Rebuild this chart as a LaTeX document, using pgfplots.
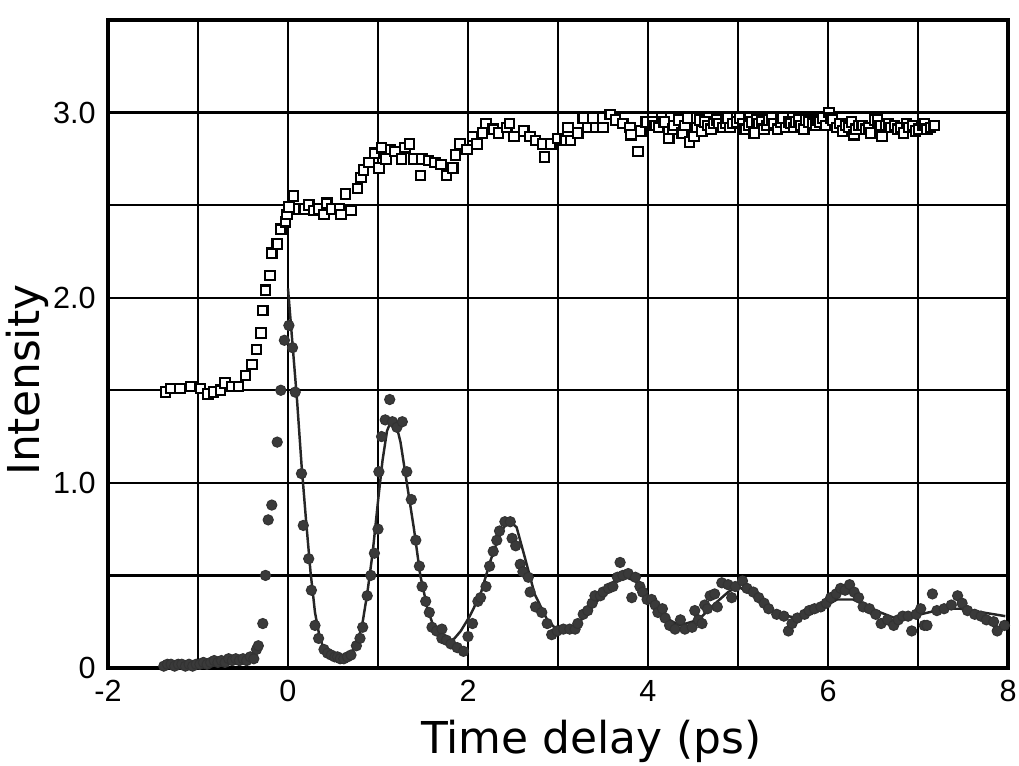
\documentclass[border=0pt]{standalone}
\usepackage{fontspec}
\setmainfont{DejaVu Sans}
\newfontfamily\tickfont{Liberation Sans}
\usepackage{pgfplots}
\pgfplotsset{compat=1.18}
\definecolor{dot}{HTML}{3A3A3A}

% open squares: upper trace
\pgfplotstableread{
x y
-1.36 1.49
-1.30 1.51
-1.20 1.51
-1.08 1.52
-0.97 1.51
-0.89 1.48
-0.83 1.49
-0.75 1.50
-0.70 1.54
-0.63 1.52
-0.55 1.52
-0.47 1.58
-0.40 1.64
-0.35 1.72
-0.30 1.81
-0.28 1.93
-0.25 2.04
-0.20 2.12
-0.18 2.24
-0.12 2.29
-0.08 2.37
-0.03 2.41
-0.01 2.45
0.01 2.49
0.06 2.55
0.12 2.48
0.18 2.48
0.23 2.50
0.29 2.47
0.34 2.48
0.40 2.45
0.43 2.51
0.49 2.48
0.57 2.48
0.59 2.45
0.64 2.56
0.70 2.47
0.77 2.59
0.81 2.65
0.84 2.69
0.90 2.73
0.96 2.78
1.01 2.70
1.04 2.81
1.09 2.75
1.14 2.80
1.19 2.79
1.26 2.75
1.30 2.81
1.35 2.83
1.40 2.75
1.47 2.66
1.49 2.75
1.56 2.74
1.63 2.73
1.70 2.72
1.76 2.66
1.83 2.70
1.86 2.77
1.91 2.83
1.99 2.80
2.05 2.87
2.10 2.83
2.16 2.89
2.20 2.94
2.28 2.91
2.34 2.89
2.43 2.92
2.46 2.94
2.51 2.87
2.62 2.90
2.69 2.87
2.75 2.85
2.83 2.83
2.85 2.76
2.92 2.83
3.00 2.86
3.08 2.85
3.11 2.92
3.14 2.85
3.22 2.89
3.28 2.97
3.33 2.92
3.39 2.97
3.42 2.92
3.50 2.92
3.58 2.99
3.64 2.96
3.72 2.94
3.80 2.92
3.81 2.88
3.89 2.79
3.92 2.90
3.98 2.95
4.05 2.95
4.08 2.93
4.12 2.92
4.15 2.97
4.18 2.95
4.23 2.86
4.27 2.91
4.29 2.93
4.34 2.96
4.38 2.89
4.41 2.93
4.44 2.97
4.46 2.84
4.51 2.87
4.54 2.92
4.57 2.96
4.60 2.90
4.63 2.95
4.66 2.93
4.70 2.91
4.73 2.94
4.76 2.96
4.79 2.94
4.83 2.92
4.86 2.94
4.88 2.97
4.91 2.92
4.94 2.94
4.99 2.95
5.02 2.97
5.05 2.94
5.08 2.91
5.12 2.93
5.15 2.95
5.18 2.89
5.21 2.96
5.23 2.94
5.26 2.95
5.29 2.91
5.32 2.93
5.34 2.96
5.37 2.97
5.40 2.94
5.44 2.91
5.47 2.95
5.50 2.97
5.53 2.92
5.56 2.95
5.59 2.94
5.62 2.92
5.64 2.95
5.67 2.96
5.70 2.93
5.73 2.91
5.75 2.96
5.79 2.95
5.83 2.94
5.86 2.93
5.88 2.96
5.91 2.95
5.94 2.97
5.97 2.93
6.01 3.00
6.03 2.97
6.05 2.96
6.10 2.92
6.13 2.94
6.16 2.90
6.20 2.93
6.23 2.92
6.26 2.95
6.29 2.88
6.31 2.91
6.34 2.93
6.38 2.93
6.42 2.91
6.45 2.92
6.47 2.89
6.52 2.96
6.55 2.96
6.58 2.93
6.60 2.87
6.64 2.93
6.67 2.94
6.70 2.92
6.74 2.93
6.77 2.91
6.81 2.92
6.84 2.89
6.87 2.94
6.90 2.92
6.94 2.93
6.97 2.90
7.01 2.91
7.05 2.93
7.07 2.94
7.10 2.91
7.14 2.92
7.18 2.93
}\squares

% filled circles: lower trace
\pgfplotstableread{
x y
-1.38 0.01
-1.34 0.02
-1.30 0.02
-1.26 0.01
-1.22 0.02
-1.18 0.02
-1.14 0.01
-1.10 0.02
-1.06 0.01
-1.02 0.02
-0.98 0.02
-0.94 0.03
-0.90 0.02
-0.86 0.03
-0.82 0.04
-0.78 0.03
-0.74 0.04
-0.70 0.03
-0.66 0.05
-0.62 0.04
-0.58 0.05
-0.54 0.04
-0.50 0.05
-0.46 0.04
-0.42 0.06
-0.38 0.05
-0.35 0.10
-0.33 0.12
-0.28 0.24
-0.25 0.50
-0.22 0.80
-0.18 0.88
-0.12 1.22
-0.08 1.50
-0.04 1.77
0.01 1.85
0.05 1.73
0.08 1.49
0.15 1.05
0.17 0.77
0.23 0.59
0.26 0.42
0.30 0.23
0.34 0.16
0.40 0.10
0.44 0.08
0.48 0.07
0.52 0.06
0.55 0.06
0.58 0.05
0.62 0.05
0.66 0.06
0.70 0.07
0.76 0.12
0.80 0.16
0.83 0.22
0.88 0.39
0.92 0.50
0.96 0.62
1.00 0.75
1.01 1.06
1.04 1.25
1.08 1.34
1.13 1.45
1.16 1.33
1.21 1.30
1.27 1.33
1.32 1.06
1.37 0.91
1.42 0.69
1.46 0.55
1.49 0.44
1.53 0.36
1.57 0.30
1.60 0.22
1.65 0.20
1.71 0.21
1.71 0.16
1.76 0.15
1.81 0.13
1.88 0.11
1.95 0.09
2.00 0.17
2.05 0.24
2.11 0.36
2.14 0.38
2.20 0.44
2.24 0.55
2.28 0.63
2.32 0.69
2.35 0.74
2.41 0.79
2.47 0.79
2.49 0.70
2.53 0.66
2.58 0.56
2.61 0.52
2.67 0.49
2.69 0.41
2.75 0.33
2.82 0.30
2.88 0.24
2.93 0.18
2.99 0.20
3.06 0.21
3.13 0.21
3.19 0.21
3.22 0.24
3.28 0.29
3.33 0.31
3.38 0.35
3.41 0.39
3.47 0.39
3.50 0.41
3.56 0.43
3.61 0.44
3.66 0.49
3.69 0.57
3.72 0.50
3.78 0.51
3.82 0.38
3.86 0.49
3.91 0.44
3.94 0.41
3.99 0.37
4.04 0.37
4.08 0.34
4.11 0.30
4.16 0.32
4.19 0.27
4.24 0.23
4.30 0.21
4.36 0.26
4.41 0.21
4.49 0.22
4.52 0.31
4.56 0.26
4.60 0.24
4.63 0.34
4.66 0.32
4.69 0.39
4.74 0.40
4.77 0.33
4.82 0.46
4.89 0.45
4.93 0.38
4.97 0.44
5.05 0.47
5.10 0.43
5.17 0.41
5.23 0.38
5.29 0.35
5.34 0.32
5.43 0.29
5.51 0.28
5.56 0.20
5.60 0.24
5.66 0.27
5.74 0.29
5.79 0.31
5.85 0.32
5.92 0.33
5.98 0.35
6.03 0.38
6.09 0.40
6.14 0.43
6.19 0.42
6.24 0.45
6.29 0.41
6.34 0.38
6.39 0.33
6.46 0.32
6.53 0.29
6.59 0.24
6.66 0.26
6.73 0.23
6.78 0.26
6.83 0.28
6.89 0.28
6.93 0.20
6.98 0.29
7.03 0.32
7.07 0.23
7.10 0.23
7.16 0.40
7.21 0.31
7.29 0.32
7.37 0.34
7.44 0.39
7.49 0.35
7.55 0.31
7.63 0.29
7.70 0.28
7.76 0.26
7.84 0.25
7.88 0.20
7.96 0.23
}\circles

% fitted curve
\pgfplotstableread{
x y
0.00 2.05
0.05 1.75
0.10 1.45
0.15 1.10
0.20 0.80
0.25 0.52
0.30 0.30
0.35 0.17
0.40 0.10
0.50 0.06
0.60 0.05
0.70 0.08
0.76 0.13
0.82 0.22
0.88 0.40
0.94 0.62
1.00 0.90
1.05 1.12
1.10 1.28
1.15 1.34
1.20 1.32
1.25 1.22
1.32 1.00
1.40 0.75
1.47 0.50
1.55 0.32
1.62 0.22
1.70 0.16
1.78 0.14
1.85 0.16
1.92 0.20
2.02 0.28
2.14 0.40
2.25 0.58
2.35 0.72
2.45 0.80
2.54 0.76
2.63 0.60
2.74 0.40
2.88 0.26
3.00 0.20
3.19 0.22
3.38 0.33
3.56 0.43
3.70 0.50
3.86 0.47
4.00 0.37
4.20 0.27
4.35 0.23
4.56 0.26
4.75 0.35
4.89 0.41
5.00 0.44
5.18 0.39
5.45 0.29
5.66 0.27
5.92 0.32
6.10 0.37
6.28 0.37
6.53 0.31
6.74 0.27
7.03 0.29
7.29 0.32
7.47 0.32
7.97 0.28
}\fit

\begin{document}
\begin{tikzpicture}
\path[use as bounding box] (-1.08cm,-0.98cm) rectangle (9.11cm,6.68cm);
\begin{axis}[
  scale only axis,
  width=9cm, height=6.48cm,
  xmin=-2, xmax=8, ymin=0, ymax=3.5,
  xtick={-2,0,2,4,6,8},
  xticklabels={-2,0,2,4,6,8},
  minor xtick={-1,1,3,5,7},
  ytick={0,1,2,3},
  yticklabels={0,1.0,2.0,3.0},
  minor ytick={0.5,1.5,2.5},
  grid=both,
  major grid style={black, line width=0.65pt},
  minor grid style={black, line width=0.65pt},
  axis line style={black, line width=0.9pt},
  major tick length=0pt, minor tick length=0pt,
  tick label style={font=\tickfont\fontsize{8.7}{10}\selectfont},
  label style={font=\fontsize{12.5}{14}\selectfont},
  xlabel={Time delay (ps)},
  ylabel={Intensity},
  xlabel style={at={(axis description cs:0.537,-0.114)}, anchor=center},
  ylabel style={at={(axis description cs:-0.090,0.444)}, anchor=center},
]
\addplot[no marks, color=black!85, line width=0.7pt] table {\fit};
\addplot[only marks, mark=*, mark size=1.45pt,
  mark options={fill=dot, draw=black!80, line width=0.3pt}] table {\circles};
\addplot[only marks, mark=square*, mark size=1.35pt,
  mark options={fill=white, draw=black, line width=0.6pt}] table {\squares};
\end{axis}
\end{tikzpicture}
\end{document}
